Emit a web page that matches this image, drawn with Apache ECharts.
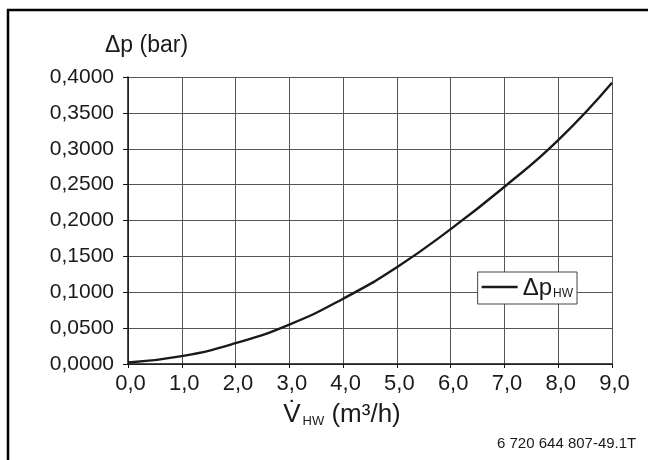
<!DOCTYPE html>
<html>
<head>
<meta charset="utf-8">
<script src="https://cdn.jsdelivr.net/npm/echarts@6/dist/echarts.min.js"></script>
<style>
  html, body { margin: 0; padding: 0; background: #fff; overflow: hidden; }
  #chart { width: 648px; height: 460px; }
</style>
</head>
<body>
<div id="chart"></div>
<script>
// Flow rate on the hot-water side (m³/h)
const flowRate = [0, 1, 2, 3, 4, 5, 6, 7, 8, 9];
// Pressure drop at each flow rate (bar)
const pressureDrop = [0.002, 0.011, 0.029, 0.055, 0.091, 0.135, 0.188, 0.247, 0.312, 0.392];

const xTicks = { min: 0, max: 9, step: 1 };
const yTicks = { min: 0, max: 0.4, step: 0.05 };

const FONT = 'Liberation Sans, Arial, sans-serif';
const INK = '#1a1a1a';
const comma = (v, d) => v.toFixed(d).replace('.', ',');

const chart = echarts.init(document.getElementById('chart'), null, { renderer: 'canvas' });

chart.setOption({
  backgroundColor: '#ffffff',
  animation: false,
  grid: { left: 128, right: 36, top: 77, bottom: 96, containLabel: false },
  title: {
    text: 'Δp (bar)',
    left: 100,
    top: 29,
    textStyle: { fontFamily: FONT, fontSize: 23, fontWeight: 'normal', color: INK }
  },
  legend: {
    right: 71,
    top: 272,
    orient: 'horizontal',
    backgroundColor: '#ffffff',
    borderColor: '#444',
    borderWidth: 1,
    borderRadius: 0,
    padding: [4, 4, 4, 4],
    itemWidth: 36,
    itemHeight: 14,
    itemGap: 0,
    data: [{ name: 'dp', icon: 'path://M0,0 L36,0 L36,2.4 L0,2.4 Z' }],
    formatter: () => '{a|Δp}{b|HW}',
    textStyle: {
      color: INK,
      fontFamily: FONT,
      rich: {
        a: { fontFamily: FONT, fontSize: 24, color: INK, lineHeight: 24, verticalAlign: 'bottom' },
        b: { fontFamily: FONT, fontSize: 12, color: INK, padding: [14, 0, 0, 1], verticalAlign: 'bottom' }
      }
    }
  },
  xAxis: {
    type: 'value',
    min: xTicks.min,
    max: xTicks.max,
    interval: xTicks.step,
    name: '{v|V̇}{s|HW}{n| (m³/h)}',
    nameLocation: 'middle',
    nameGap: 37,
    nameTextStyle: {
      padding: [0, 56, 0, 0],
      rich: {
        v: { fontFamily: FONT, fontSize: 26, color: INK, verticalAlign: 'bottom' },
        s: { fontFamily: FONT, fontSize: 13, color: INK, padding: [14, 0, 0, 2], verticalAlign: 'bottom' },
        n: { fontFamily: FONT, fontSize: 26, color: INK, verticalAlign: 'bottom' }
      }
    },
    axisLine: { show: true, onZero: false, lineStyle: { color: '#111', width: 1.5 } },
    axisTick: { show: true, inside: false, length: 4, lineStyle: { color: '#111', width: 1 } },
    axisLabel: {
      margin: 9,
      padding: [0, 0, 0, 5],
      fontFamily: FONT,
      fontSize: 22,
      color: INK,
      formatter: v => comma(v, 1)
    },
    splitLine: { show: true, lineStyle: { color: '#555', width: 1 } }
  },
  yAxis: {
    type: 'value',
    min: yTicks.min,
    max: yTicks.max,
    interval: yTicks.step,
    axisLine: { show: true, onZero: false, lineStyle: { color: '#111', width: 1.5 } },
    axisTick: { show: true, inside: false, length: 5, lineStyle: { color: '#111', width: 1 } },
    axisLabel: {
      margin: 14,
      fontFamily: FONT,
      fontSize: 21,
      color: INK,
      formatter: v => comma(v, 4)
    },
    splitLine: { show: true, lineStyle: { color: '#555', width: 1 } }
  },
  series: [{
    name: 'dp',
    type: 'line',
    smooth: true,
    symbol: 'none',
    lineStyle: { color: INK, width: 2.4 },
    itemStyle: { color: INK },
    data: flowRate.map((q, i) => [q, pressureDrop[i]])
  }],
  graphic: [
    // frame: left and top edges only
    { type: 'line', shape: { x1: 8, y1: 9, x2: 8, y2: 460 },
      style: { stroke: '#000', lineWidth: 2.5 } },
    { type: 'line', shape: { x1: 7, y1: 10, x2: 648, y2: 10 },
      style: { stroke: '#000', lineWidth: 2.5 } },
    { type: 'text', left: 497, top: 436,
      style: { text: '6 720 644 807-49.1T', font: '15px ' + FONT, fill: INK } }
  ]
});
</script>
</body>
</html>
